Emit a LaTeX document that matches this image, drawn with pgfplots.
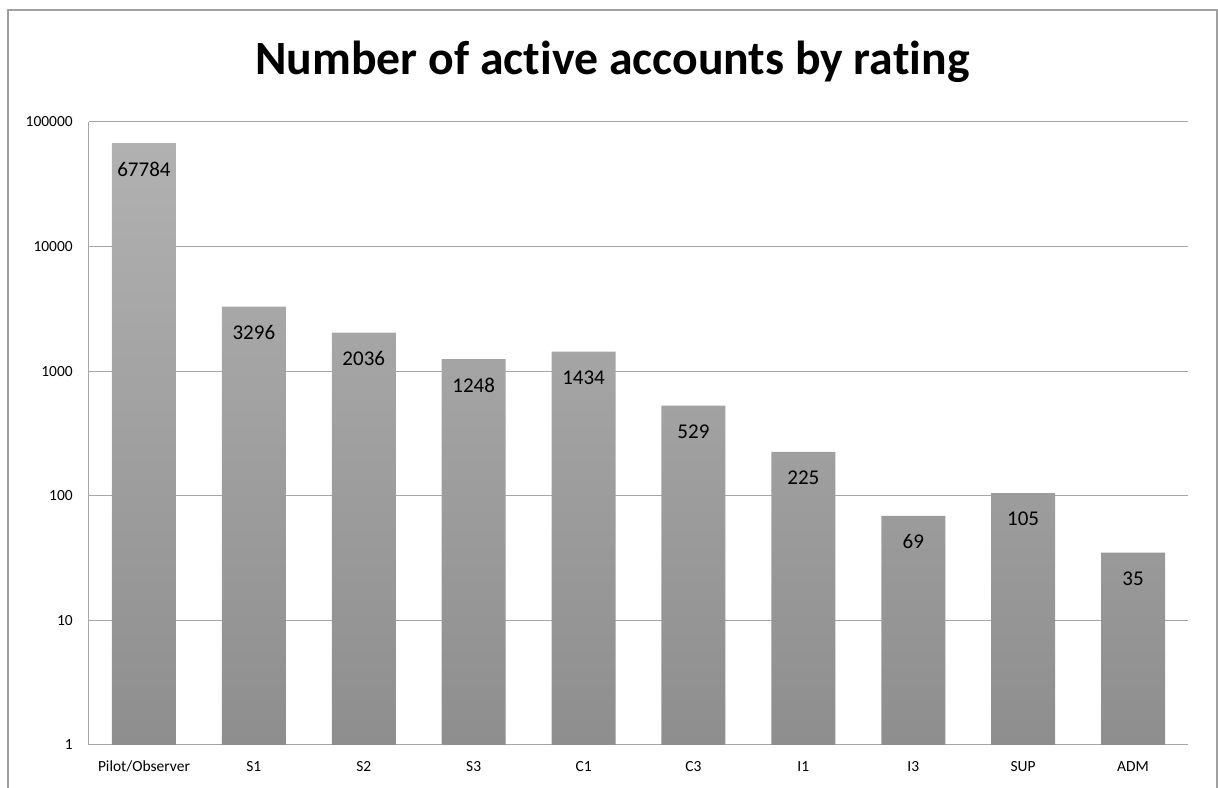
\documentclass[border=0pt]{standalone}
\usepackage{fontspec}
\setmainfont{Carlito}[Ligatures=NoCommon]
\usepackage{pgfplots}
\pgfplotsset{compat=1.18}
\definecolor{gridc}{HTML}{A6A6A6}
\definecolor{framec}{HTML}{A0A0A0}
\definecolor{bartop}{HTML}{B1B1B1}
\definecolor{barbot}{HTML}{8E8E8E}
\begin{document}
\begin{tikzpicture}
\path[use as bounding box, clip] (-66.75pt,-32.25pt) rectangle (846.75pt,558.75pt);
\draw[framec, line width=0.9pt] (-60.75pt,-60pt) rectangle (846pt,551.25pt);
\begin{axis}[
  at={(0,0)}, anchor=south west,
  scale only axis, width=824.25pt, height=467.25pt,
  ymode=log, ymin=1, ymax=100000,
  xmin=-0.5, xmax=9.5,
  axis x line*=bottom, axis y line*=left,
  axis line style={gridc, line width=0.75pt, -},
  ymajorgrids, grid style={gridc, line width=0.75pt},
  major tick length=0pt, minor tick length=0pt,
  ytick={1,10,100,1000,10000,100000},
  yticklabels={1,10,100,1000,10000,100000},
  xtick={0,...,9},
  xticklabels={Pilot/Observer,S1,S2,S3,C1,C3,I1,I3,SUP,ADM},
  tick label style={font=\fontsize{11.6}{14}\selectfont, black},
  yticklabel style={anchor=east, inner sep=0pt, xshift=-12pt},
  xticklabel style={anchor=base, inner sep=0pt, yshift=-20.25pt},
  ybar, bar width=48pt,
  point meta=explicit symbolic,
  nodes near coords,
  every node near coord/.append style={font=\fontsize{15.75}{18}\selectfont, anchor=center, yshift=-19.5pt, black},
  /pgf/number format/assume math mode=true,
  clip=false,
]
\addplot[draw=none, top color=bartop, bottom color=barbot] coordinates {
  (0,67784) [67784]
  (1,3296) [3296]
  (2,2036) [2036]
  (3,1248) [1248]
  (4,1434) [1434]
  (5,529) [529]
  (6,225) [225]
  (7,69) [69]
  (8,105) [105]
  (9,35) [35]
};
\end{axis}
\node[anchor=base, font=\fontsize{35.8}{40}\selectfont\bfseries] at (392.6pt,502.5pt) {Number of active accounts by rating};
\end{tikzpicture}
\end{document}
